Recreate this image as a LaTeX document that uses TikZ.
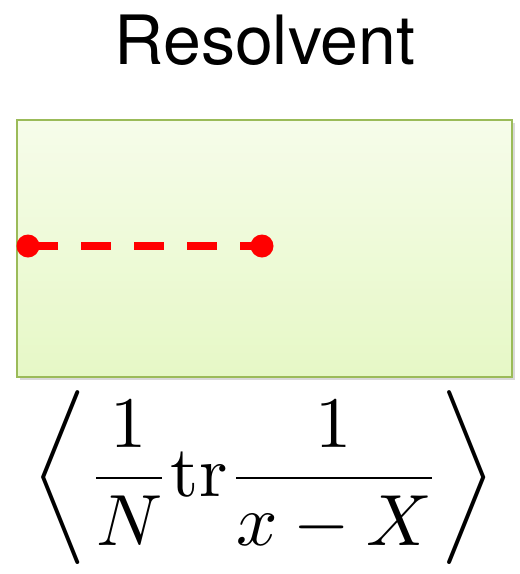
\documentclass[tikz,border=0pt]{standalone}
\usepackage{fontspec}
\usepackage{graphicx}
\newfontfamily\titlefont{TeX Gyre Heros}
\usetikzlibrary{shadows}
\definecolor{boxborder}{RGB}{155,187,89}
\definecolor{boxtop}{RGB}{246,252,234}
\definecolor{boxbot}{RGB}{230,248,198}
\definecolor{redline}{RGB}{255,0,0}
\tikzset{
  titlestyle/.style={font=\titlefont\fontsize{68}{80}\selectfont, anchor=base},
  boxstyle/.style={draw=boxborder, line width=2pt, top color=boxtop, bottom color=boxbot,
    drop shadow={shadow xshift=3pt, shadow yshift=-3pt, opacity=0.3}},
  dotstyle/.style={circle, fill=redline, inner sep=0pt, minimum size=23pt},
  dashline/.style={draw=redline, line width=8pt, dash pattern=on 30pt off 23pt},
  formula/.style={inner sep=0pt}
}
\begin{document}
\begin{tikzpicture}[x=1pt,y=-1pt]
\useasboundingbox (0,0) rectangle (520,574);
\node[titlestyle] (title) at (265,64) {Resolvent};
\node[boxstyle, minimum width=495pt, minimum height=257pt, anchor=north west, inner sep=0pt] (box) at (16,119) {};
\node[dotstyle] (d1) at (28,246) {};
\node[dotstyle] (d2) at (262,246) {};
\draw[dashline] (d1.center) -- (d2.center);
\node[formula] (f) at (264,478) {\resizebox{462pt}{!}{$\displaystyle\left\langle \frac{1}{N}\mathrm{tr}\frac{1}{x-X}\right\rangle$}};
\end{tikzpicture}
\end{document}
